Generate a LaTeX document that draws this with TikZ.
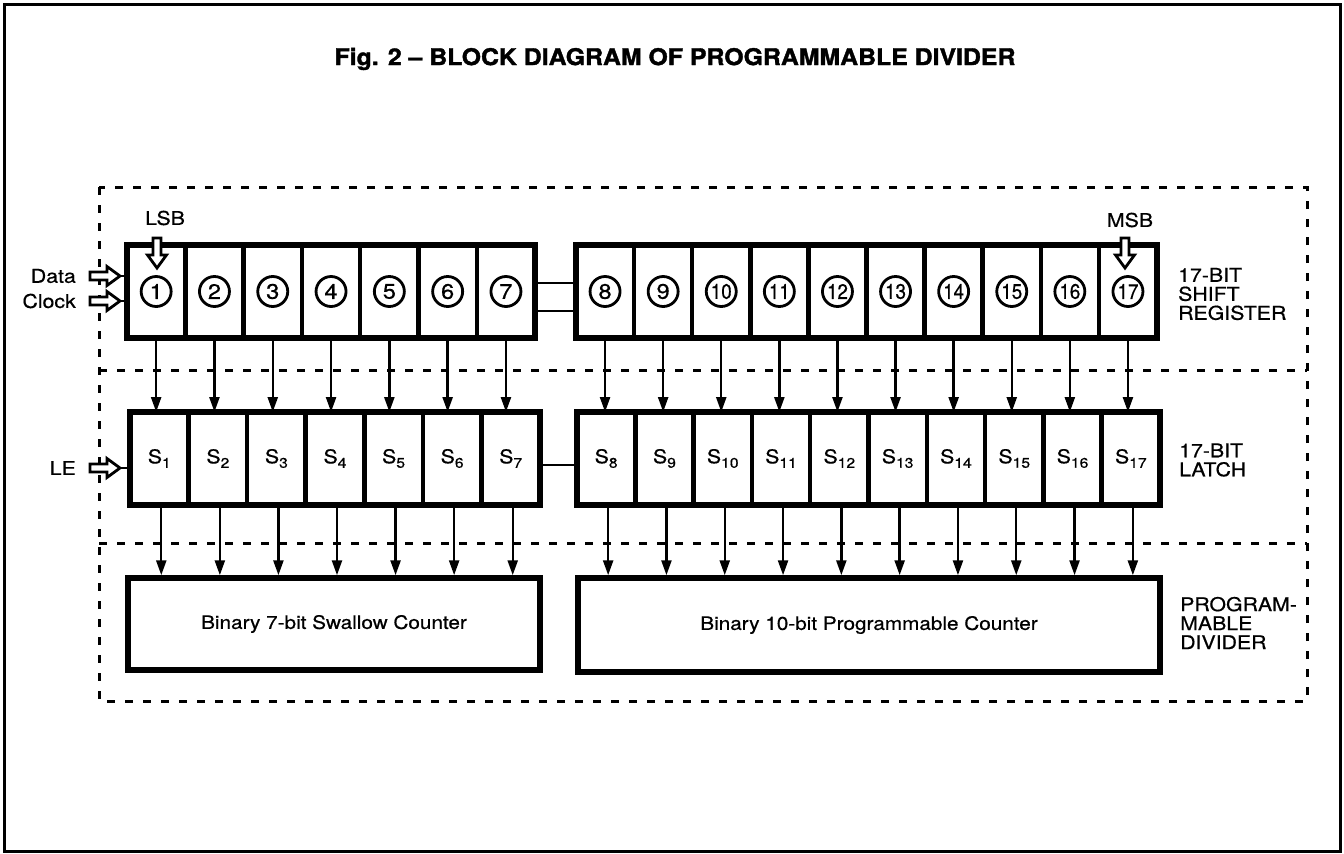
\documentclass[tikz,border=0pt]{standalone}
\usepackage{graphicx}
\usepackage{fontspec}
\setmainfont{TeX Gyre Heros}[FakeStretch=1.12, FakeBold=0.6]
\newfontfamily\titlefont{TeX Gyre Heros}[FakeStretch=1.08, FakeBold=1.6]
\usetikzlibrary{arrows.meta}
\newcommand{\Ssub}[1]{S\raisebox{-4.5pt}{\fontsize{14}{14}\selectfont #1}}
\newcommand{\twodig}[1]{\scalebox{0.8}[1]{#1}}
\begin{document}
\begin{tikzpicture}[x=1pt,y=-1pt,
  lbl/.style={font=\fontsize{19}{19}\selectfont, inner sep=0pt, align=left},
  srcell/.style={draw, line width=4.5pt, minimum height=93pt, inner sep=0pt, outer sep=0pt},
  lacell/.style={draw, line width=4.5pt, minimum height=93pt, inner sep=0pt, outer sep=0pt, font=\fontsize{19}{19}\selectfont},
  circ/.style={draw, circle, line width=2.8pt, minimum size=30pt, inner sep=0pt, font=\fontsize{21}{21}\selectfont},
  boxline/.style={line width=5.5pt, line join=miter},
  counter/.style={draw, line width=5.5pt, inner sep=0pt, font=\fontsize{18.5}{18.5}\selectfont},
  arr/.style={line width=2.4pt, -{Triangle[length=15pt,width=10pt]}},
  conn/.style={line width=2.4pt},
  dashline/.style={line width=3pt, dash pattern=on 8pt off 10pt},
  harrow/.pic={\draw[line width=2.8pt, fill=white, line join=miter]
     (-30,-4) -- (-13,-4) -- (-13,-9.5) -- (0,0) -- (-13,9.5) -- (-13,4) -- (-30,4) -- cycle;}
]
\useasboundingbox (0,0) rectangle (1344,854);
% outer frame
\draw[line width=3pt] (4,4) rectangle (1340,851);
% title
\node[font=\fontsize{23}{23}\titlefont\bfseries] (title) at (675,59) {Fig. 2 – BLOCK DIAGRAM OF PROGRAMMABLE DIVIDER};
% dashed regions
\draw[dashline] (99,187) rectangle (1307,701);
\draw[dashline] (99,370) -- (1307,370);
\draw[dashline] (99,543) -- (1307,543);

% shift register cells
\foreach \i in {1,...,7} {
  \node[srcell, minimum width=58.3pt] (s\i) at ({127+(\i-0.5)*58.3},291.5) {};
  \node[circ] (c\i) at (s\i) {\i};
}
\foreach \i in {8,...,17} {
  \node[srcell, minimum width=58.1pt] (s\i) at ({576+(\i-7.5)*58.1},291.5) {};
}
\foreach \i in {8,9} { \node[circ] (c\i) at (s\i) {\i}; }
\foreach \i in {10,...,17} { \node[circ] (c\i) at (s\i) {\twodig{\i}}; }
\draw[boxline] (s1.north west) rectangle (s7.south east);
\draw[boxline] (s8.north west) rectangle (s17.south east);
\draw[conn] ([yshift=8.5pt]s7.east) -- ([yshift=8.5pt]s8.west);
\draw[conn] ([yshift=-19.5pt]s7.east) -- ([yshift=-19.5pt]s8.west);

% latch cells
\foreach \i in {1,...,7} {
  \node[lacell, minimum width=58.57pt] (l\i) at ({130+(\i-0.5)*58.57},458.5) {\Ssub{\i}};
}
\foreach \i in {8,...,17} {
  \node[lacell, minimum width=58.3pt] (l\i) at ({577+(\i-7.5)*58.3},458.5) {\Ssub{\i}};
}
\draw[boxline] (l1.north west) rectangle (l7.south east);
\draw[boxline] (l8.north west) rectangle (l17.south east);
\draw[conn] ([yshift=-6.5pt]l7.east) -- ([yshift=-6.5pt]l8.west);

% counters
\node[counter, minimum width=412pt, minimum height=92pt] (swc) at (334,624) {Binary 7-bit Swallow Counter};
\node[counter, minimum width=582pt, minimum height=94pt] (pc) at (869,625) {Binary 10-bit Programmable Counter};

% arrows SR -> latch
\foreach \i in {1,...,17} {
  \draw[arr] (s\i.south) -- (s\i.south |- l\i.north);
}
% arrows latch -> counters
\foreach \i in {1,...,7} {
  \draw[arr] ([xshift=2pt]l\i.south) -- ([xshift=2pt]l\i.south |- swc.north);
}
\foreach \i in {8,...,17} {
  \draw[arr] ([xshift=2pt]l\i.south) -- ([xshift=2pt]l\i.south |- pc.north);
}

% input arrows
\coordinate (dtip) at (120,276);
\coordinate (ctip) at (120,301);
\coordinate (letip) at (120,468);
\pic at (dtip) {harrow};
\pic at (ctip) {harrow};
\pic at (letip) {harrow};
\draw[conn] (dtip) -- (dtip -| s1.west);
\draw[conn] (ctip) -- (ctip -| s1.west);
\draw[conn] (letip) -- (letip -| l1.west);
\node[lbl, anchor=east] (data) at (76,276) {Data};
\node[lbl, anchor=east] (clock) at (76,301) {Clock};
\node[lbl, anchor=east] (le) at (76,468) {LE};

% LSB / MSB
\coordinate (lsbtip) at (157,268);
\coordinate (msbtip) at (1125,268);
\pic[rotate=-90] at (lsbtip) {harrow};
\pic[rotate=-90] at (msbtip) {harrow};
\node[lbl] (lsb) at (165,218) {LSB};
\node[lbl] (msb) at (1130,220) {MSB};

% right labels
\node[lbl, anchor=west] (srlbl) at (1178,294) {17-BIT\\SHIFT\\REGISTER};
\node[lbl, anchor=west] (lalbl) at (1179,460) {17-BIT\\LATCH};
\node[lbl, anchor=west] (pdlbl) at (1180,623) {PROGRAM-\\MABLE\\DIVIDER};
\end{tikzpicture}
\end{document}
